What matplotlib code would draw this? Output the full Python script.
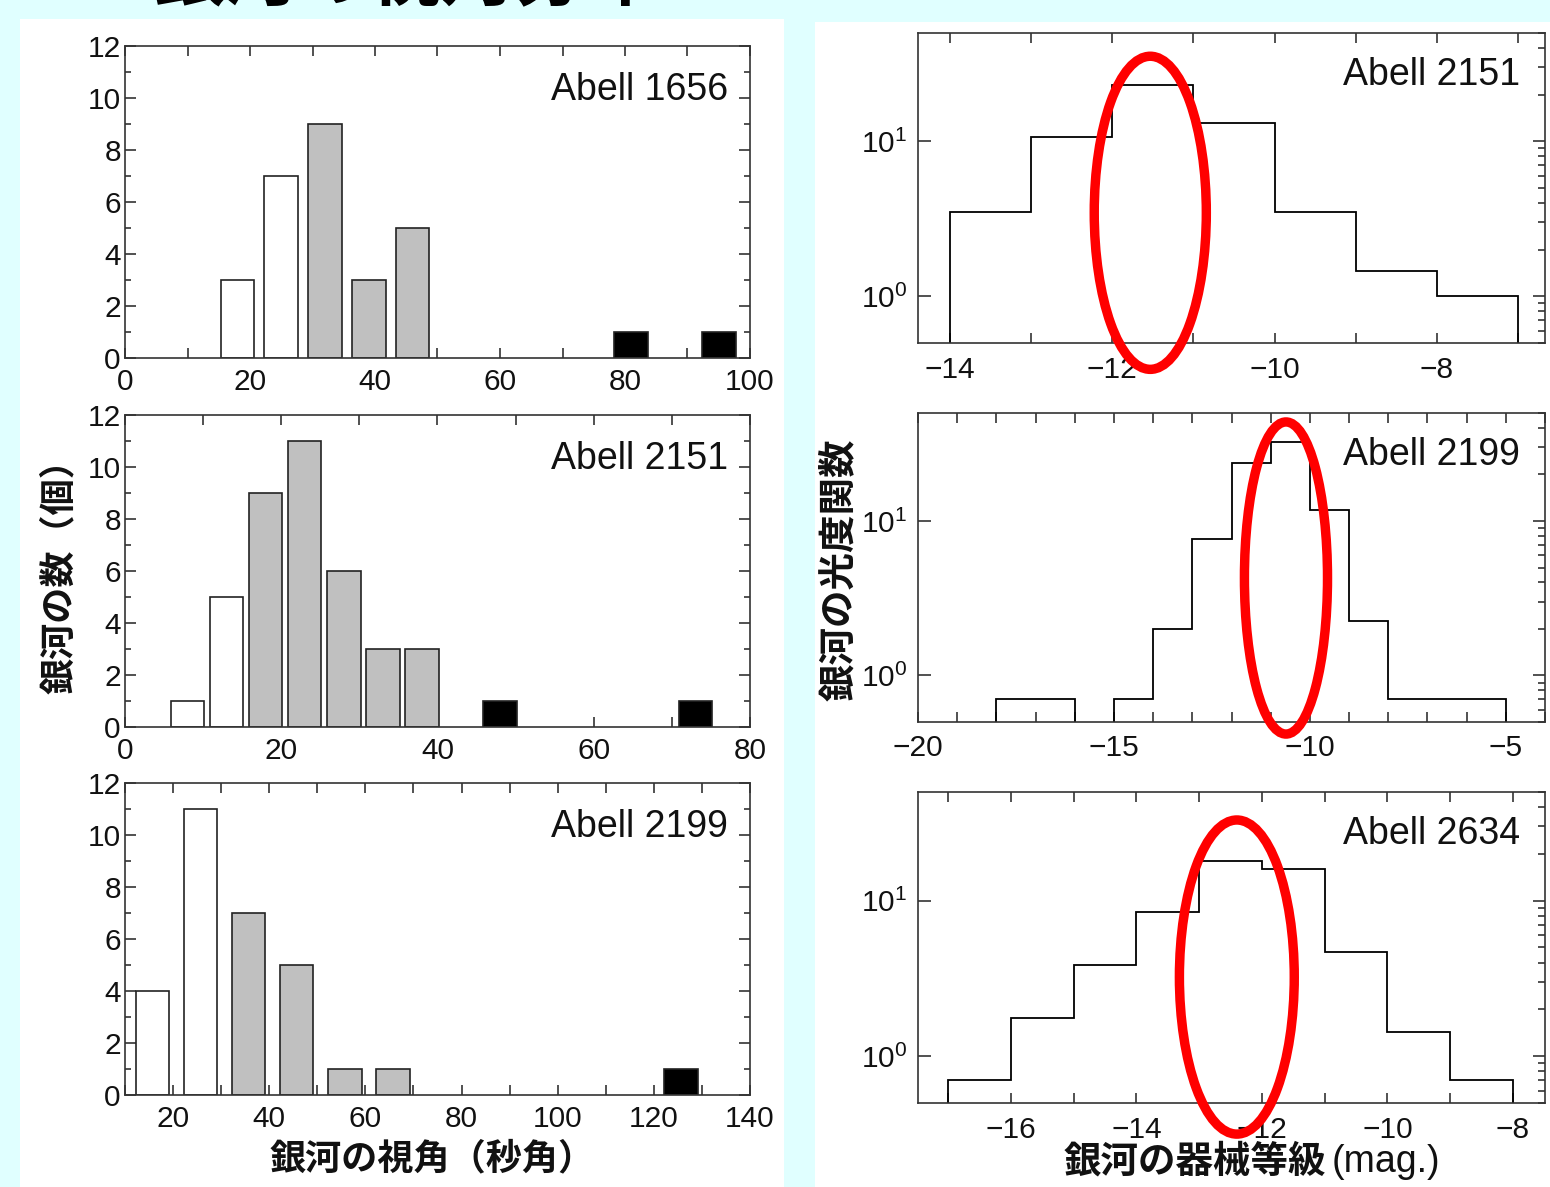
import numpy as np
import matplotlib
matplotlib.use('Agg')
import matplotlib.pyplot as plt
from matplotlib.patches import Ellipse, Rectangle
from matplotlib.ticker import MultipleLocator, LogLocator, NullFormatter
import matplotlib.transforms as mtransforms

plt.rcParams['font.family'] = ['Liberation Sans', 'Noto Sans CJK JP']
plt.rcParams['mathtext.fontset'] = 'custom'
plt.rcParams['mathtext.rm'] = 'Liberation Sans'
plt.rcParams['mathtext.default'] = 'regular'
plt.rcParams['axes.unicode_minus'] = True

# ---------------- data ----------------
# left: angular size histograms (bar centre, count, class: w=white, g=gray, k=black)
a1656_x = [18, 25, 32, 39, 46, 81, 95]
a1656_n = [3, 7, 9, 3, 5, 1, 1]
a1656_c = ['w', 'w', 'g', 'g', 'g', 'k', 'k']

a2151_x = [8, 13, 18, 23, 28, 33, 38, 48, 73]
a2151_n = [1, 5, 9, 11, 6, 3, 3, 1, 1]
a2151_c = ['w', 'w', 'g', 'g', 'g', 'g', 'g', 'k', 'k']

a2199_x = [15.7, 25.7, 35.7, 45.7, 55.7, 65.7, 125.7]
a2199_n = [4, 11, 7, 5, 1, 1, 1]
a2199_c = ['w', 'w', 'g', 'g', 'g', 'g', 'k']

# right: luminosity functions (bin edges, values)
lf2151_edges = [-14, -13, -12, -11, -10, -9, -8, -7]
lf2151_vals = [3.5, 10.6, 23.2, 13.2, 3.5, 1.45, 1.0]

lf2199_edges = [-18, -17, -16, -15, -14, -13, -12, -11, -10, -9, -8, -7, -6, -5]
lf2199_vals = [0.7, 0.7, 0, 0.7, 2.0, 7.7, 23.8, 32.3, 11.7, 2.24, 0.7, 0.7, 0.7]

lf2634_edges = [-17, -16, -15, -14, -13, -12, -11, -10, -9, -8]
lf2634_vals = [0.7, 1.75, 3.86, 8.4, 18.0, 16.0, 4.7, 1.44, 0.7]

# highlighted peak magnitudes (red ellipses): centre, width (mag)
peak_2151 = (-11.53, 1.38)
peak_2199 = (-10.61, 2.12)
peak_2634 = (-12.40, 1.83)

# ---------------- figure ----------------
W, H = 1550, 1187
fig = plt.figure(figsize=(W / 100, H / 100), dpi=100)
fig.patch.set_facecolor('#e0ffff')

def fx(px):
    return px / W

def fy(py):
    return 1 - py / H

# white panels
fig.add_artist(Rectangle((fx(20), fy(1187)), (784 - 20) / W, (1187 - 19) / H,
                         transform=fig.transFigure, facecolor='white', edgecolor='none', zorder=0))
fig.add_artist(Rectangle((fx(815), fy(1187)), (1550 - 815) / W, (1187 - 22) / H,
                         transform=fig.transFigure, facecolor='white', edgecolor='none', zorder=0))

def make_ax(l, r, t, b):
    ax = fig.add_axes([fx(l), fy(b), (r - l) / W, (b - t) / H])
    ax.set_facecolor('white')
    for s in ax.spines.values():
        s.set_color('#333333')
        s.set_linewidth(1.2)
    return ax

colmap = {'w': 'white', 'g': '#c0c0c0', 'k': 'black'}
TICK_FS = 21.5

def left_panel(ax, xs, ns, cs, width, xlim, xmaj, name):
    ax.bar(xs, ns, width=width, color=[colmap[c] for c in cs],
           edgecolor='#222222', linewidth=1.2, zorder=2)
    ax.set_xlim(*xlim)
    ax.set_ylim(0, 12)
    ax.xaxis.set_major_locator(MultipleLocator(xmaj))
    ax.xaxis.set_minor_locator(MultipleLocator(xmaj / 2))
    ax.yaxis.set_major_locator(MultipleLocator(2))
    ax.yaxis.set_minor_locator(MultipleLocator(1))
    ax.tick_params(which='both', direction='in', top=True, right=True,
                   color='#333333', labelcolor='#111111', labelsize=TICK_FS, width=1.2)
    ax.tick_params(axis='x', which='both', length=7, pad=7)
    ax.tick_params(axis='y', which='major', length=8, pad=3)
    ax.tick_params(axis='y', which='minor', length=4)
    ax.text(0.965, 0.86, name, transform=ax.transAxes, ha='right', va='center',
            fontsize=27, color='#111111')

def right_panel(ax, edges, vals, xlim, xmaj, name):
    v = np.asarray(vals, dtype=float)
    floor = 1e-3
    ax.stairs(np.where(v > 0, v, floor), edges, baseline=floor, color='black',
              linewidth=1.3, zorder=2)
    ax.set_yscale('log')
    ax.set_xlim(*xlim)
    ax.set_ylim(0.5, 50)
    ax.xaxis.set_major_locator(MultipleLocator(xmaj))
    ax.xaxis.set_minor_locator(MultipleLocator(1))
    ax.yaxis.set_major_locator(LogLocator(base=10))
    ax.yaxis.set_minor_locator(LogLocator(base=10, subs=np.arange(2, 10)))
    ax.yaxis.set_minor_formatter(NullFormatter())
    ax.tick_params(which='both', direction='in', top=True, right=True,
                   color='#333333', labelcolor='#111111', labelsize=TICK_FS, width=1.2)
    ax.tick_params(axis='x', which='both', length=7, pad=9)
    ax.tick_params(axis='y', which='major', length=9, pad=8)
    ax.tick_params(axis='y', which='minor', length=5, left=False, right=True)
    ax.text(0.96, 0.865, name, transform=ax.transAxes, ha='right', va='center',
            fontsize=27, color='#111111')
    return mtransforms.blended_transform_factory(ax.transData, ax.transAxes)

# left column
ax1 = make_ax(125, 750, 46, 358)
left_panel(ax1, a1656_x, a1656_n, a1656_c, 5.4, (0, 100), 20, 'Abell 1656')
ax2 = make_ax(125, 750, 415, 727)
left_panel(ax2, a2151_x, a2151_n, a2151_c, 4.3, (0, 80), 20, 'Abell 2151')
ax3 = make_ax(125, 750, 783, 1095)
left_panel(ax3, a2199_x, a2199_n, a2199_c, 7.0, (10, 140), 20, 'Abell 2199')

# right column
ax4 = make_ax(918, 1545, 33, 343)
tr4 = right_panel(ax4, lf2151_edges, lf2151_vals, (-14.39, -6.67), 2, 'Abell 2151')
ax5 = make_ax(918, 1545, 413, 722)
tr5 = right_panel(ax5, lf2199_edges, lf2199_vals, (-20, -4), 5, 'Abell 2199')
ax6 = make_ax(918, 1545, 792, 1103)
tr6 = right_panel(ax6, lf2634_edges, lf2634_vals, (-17.48, -7.49), 2, 'Abell 2634')

for ax, tr, pk, yc in [(ax4, tr4, peak_2151, 0.42), (ax5, tr5, peak_2199, 0.466),
                       (ax6, tr6, peak_2634, 0.405)]:
    e = Ellipse((pk[0], yc), pk[1], 1.01, transform=tr, fill=False,
                edgecolor='#ff0000', linewidth=6.8, clip_on=False, zorder=5)
    ax.add_patch(e)

# axis labels
fig.text(fx(60), fy(568), '銀河の数（個）', rotation=90, ha='center', va='center',
         fontsize=26, fontweight='bold', color='#111111')
fig.text(fx(432), fy(1160), '銀河の視角（秒角）', ha='center', va='center',
         fontsize=26, fontweight='bold', color='#111111')
fig.text(fx(840), fy(570), '銀河の光度関数', rotation=90, ha='center', va='center',
         fontsize=27, fontweight='bold', color='#111111')
fig.text(fx(1326), fy(1162), '銀河の器械等級', ha='right', va='center',
         fontsize=27, fontweight='bold', color='#111111')
fig.text(fx(1332), fy(1162), '(mag.)', ha='left', va='center',
         fontsize=27, color='#111111')

# slide title (cut off at the top edge, as in the original screenshot)
fig.text(fx(405), fy(15), '銀河の視角分布', ha='center', va='bottom',
         fontsize=52, fontweight='bold', color='black')

fig.savefig('out.png', dpi=100, facecolor=fig.get_facecolor())
